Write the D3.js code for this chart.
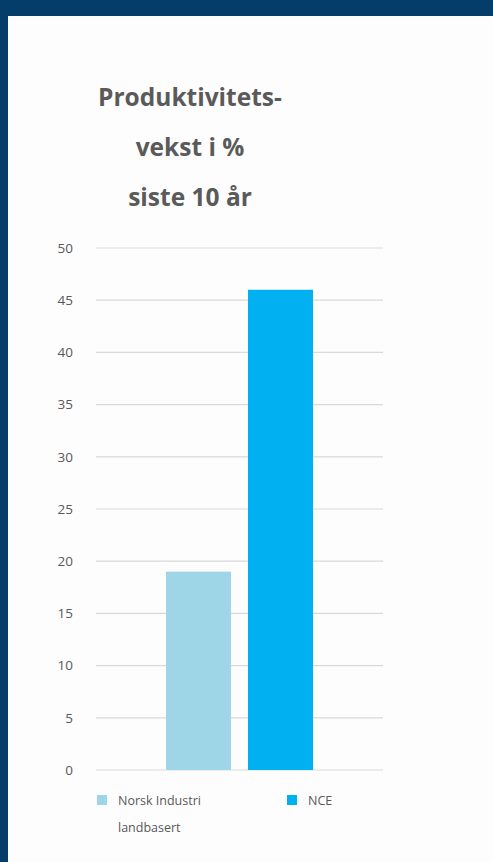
<!DOCTYPE html>
<html><head><meta charset="utf-8">
<script src="https://cdn.jsdelivr.net/npm/d3@7"></script>
<style>html,body{margin:0;padding:0;background:#fff;}svg{display:block;}</style>
</head><body>
<script>
const titleLines = ["Produktivitets-", "vekst i %", "siste 10 år"];
const categories = ["Produktivitetsvekst"];
const seriesNames = ["Norsk Industri landbasert", "NCE"];
const seriesValues = [19, 46];
const yTicks = [0, 5, 10, 15, 20, 25, 30, 35, 40, 45, 50];
const seriesColors = ["#9ed6e7", "#00b0f0"];

const W = 493, H = 862;
const svg = d3.select("body").append("svg").attr("width", W).attr("height", H);

svg.append("rect").attr("x",0).attr("y",0).attr("width",W).attr("height",H).attr("fill","#fdfdfd");
svg.append("rect").attr("x",0).attr("y",0).attr("width",W).attr("height",16).attr("fill","#043c6a");
svg.append("rect").attr("x",0).attr("y",0).attr("width",8).attr("height",H).attr("fill","#043c6a");

const title = svg.append("text").attr("text-anchor","middle")
  .attr("font-family","Open Sans, sans-serif").attr("font-weight","bold")
  .attr("font-size",24.5).attr("fill","#5a5a5a");
titleLines.forEach((t,i)=>{
  title.append("tspan").attr("x",190).attr("y",106 + i*50).text(t);
});

const plotL = 96, plotR = 383, plotT = 248, plotB = 770;
const y = d3.scaleLinear().domain([0,50]).range([plotB, plotT]);
const x0 = d3.scaleBand().domain(categories).range([plotL, plotR]).paddingInner(0).paddingOuter(0.476);
const x1 = d3.scaleBand().domain(seriesNames).range([0, x0.bandwidth()]).paddingInner(0.207).paddingOuter(0);

svg.append("g").selectAll("line").data(yTicks).join("line")
  .attr("x1",plotL).attr("x2",plotR)
  .attr("y1",d=>y(d)).attr("y2",d=>y(d))
  .attr("stroke","#d9d9d9").attr("stroke-width",1.2);

const yAxis = d3.axisLeft(y).tickValues(yTicks).tickSize(0).tickPadding(0);
const gy = svg.append("g").attr("transform",`translate(73,0)`).call(yAxis);
gy.select(".domain").remove();
gy.selectAll("text").attr("font-family","Open Sans, sans-serif").attr("font-size",13.5).attr("fill","#595959");

const data = seriesNames.map((s,i)=>({cat:categories[0], name:s, value:seriesValues[i], color:seriesColors[i]}));
svg.append("g").selectAll("rect").data(data).join("rect")
  .attr("x",d=>x0(d.cat)+x1(d.name))
  .attr("width",x1.bandwidth())
  .attr("y",d=>y(d.value))
  .attr("height",d=>y(0)-y(d.value))
  .attr("fill",d=>d.color);

const legend = [
  {name:seriesNames[0], lines:["Norsk Industri","landbasert"], color:seriesColors[0], x:97},
  {name:seriesNames[1], lines:["NCE"], color:seriesColors[1], x:287}
];
const lg = svg.append("g").selectAll("g").data(legend).join("g");
lg.append("rect").attr("x",d=>d.x).attr("y",795).attr("width",10).attr("height",10).attr("fill",d=>d.color);
lg.each(function(d){
  const t = d3.select(this).append("text").attr("font-family","Open Sans, sans-serif")
    .attr("font-size",12.5).attr("fill","#595959");
  d.lines.forEach((l,i)=>t.append("tspan").attr("x",d.x+21).attr("y",805+i*27).text(l));
});
</script>
</body></html>
